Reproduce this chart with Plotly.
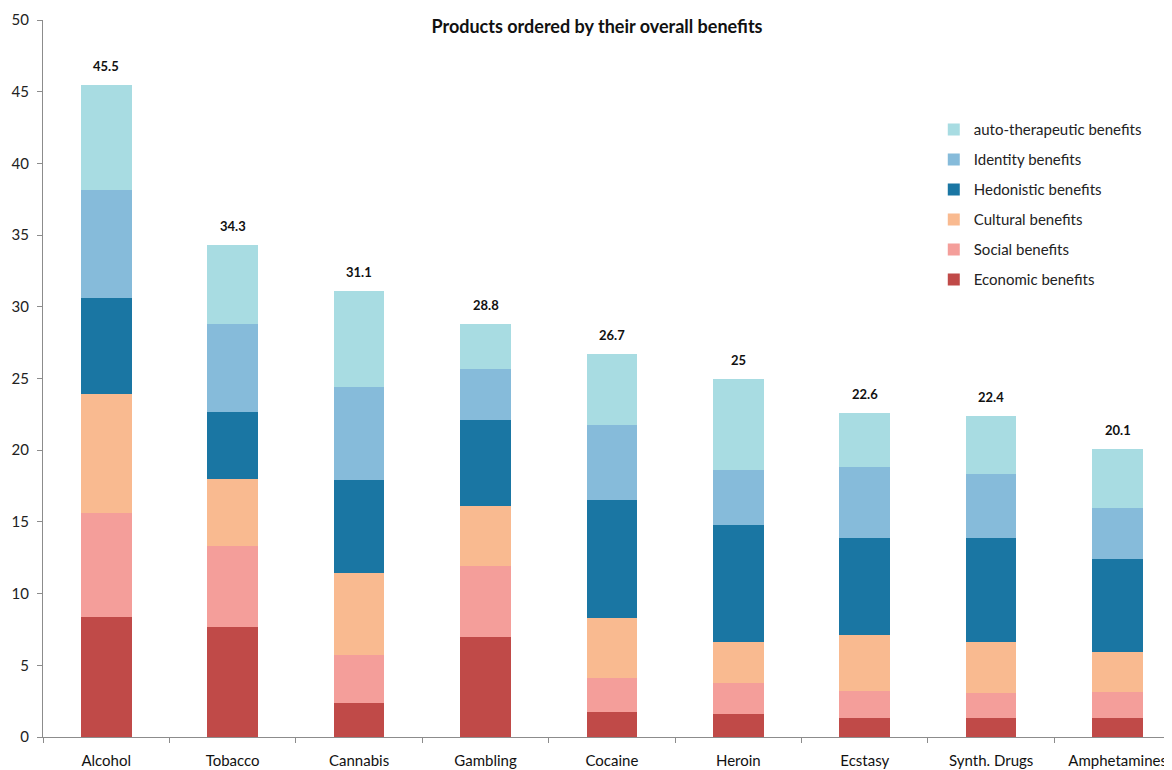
import plotly.graph_objects as go

products = ["Alcohol", "Tobacco", "Cannabis", "Gambling", "Cocaine", "Heroin",
            "Ecstasy", "Synth. Drugs", "Amphetamines"]

economic = [8.4, 7.7, 2.4, 6.95, 1.75, 1.6, 1.3, 1.35, 1.35]
social = [7.2, 5.65, 3.35, 4.95, 2.35, 2.15, 1.9, 1.7, 1.8]
cultural = [8.3, 4.65, 5.7, 4.2, 4.2, 2.9, 3.9, 3.55, 2.8]
hedonistic = [6.7, 4.65, 6.5, 6.0, 8.2, 8.1, 6.75, 7.25, 6.45]
identity = [7.55, 6.15, 6.45, 3.55, 5.25, 3.9, 4.95, 4.5, 3.6]
auto_therapeutic = [7.35, 5.5, 6.7, 3.15, 4.95, 6.35, 3.8, 4.05, 4.1]

totals = [45.5, 34.3, 31.1, 28.8, 26.7, 25, 22.6, 22.4, 20.1]
total_labels = ["45.5", "34.3", "31.1", "28.8", "26.7", "25", "22.6", "22.4", "20.1"]

series = [
    ("Economic benefits", economic, "#C04A48"),
    ("Social benefits", social, "#F49E9A"),
    ("Cultural benefits", cultural, "#F9BA90"),
    ("Hedonistic benefits", hedonistic, "#1A76A3"),
    ("Identity benefits", identity, "#86BBDA"),
    ("auto-therapeutic benefits", auto_therapeutic, "#A8DCE2"),
]

FONT = "Lato, 'Open Sans', sans-serif"

fig = go.Figure()
n = len(series)
for i, (name, vals, color) in enumerate(series):
    fig.add_trace(go.Bar(
        x=products, y=vals, name=name, legendgroup=f"g{i}",
        legendrank=n - i,
        marker=dict(color=color, line=dict(width=0)),
    ))

for p, t, lab in zip(products, totals, total_labels):
    fig.add_annotation(x=p, y=t, text=f"<b>{lab}</b>", showarrow=False,
                       yshift=19, font=dict(size=13, color="#111111", family=FONT))

fig.update_layout(
    width=1164, height=762,
    barmode="stack", bargap=0.6,
    plot_bgcolor="white", paper_bgcolor="white",
    margin=dict(l=35, r=0, t=12, b=33, autoexpand=False),
    font=dict(family=FONT, size=14, color="#222222"),
    title=dict(text="<b>Products ordered by their overall benefits</b>",
               x=0.506, xanchor="center", y=0.975, yanchor="middle",
               font=dict(size=18, color="#111111", family=FONT)),
    legend=dict(x=0.789, y=0.87, xanchor="left", yanchor="top",
                traceorder="grouped", tracegroupgap=7.5,
                font=dict(size=15, color="#222222", family=FONT),
                bgcolor="rgba(0,0,0,0)", itemwidth=30),
    showlegend=True,
)

fig.update_xaxes(
    type="category", range=[-0.5, 8.43],
    showline=True, linecolor="#8c8c8c", linewidth=1,
    ticks="outside", tickson="boundaries", ticklen=5, tickcolor="#8c8c8c",
    showgrid=False, tickfont=dict(size=15, color="#111111"),
    ticklabelstandoff=10,
    automargin=False,
)
fig.update_yaxes(
    range=[0, 50], dtick=5, tick0=0,
    showline=True, linecolor="#8c8c8c", linewidth=1,
    ticks="outside", ticklen=5, tickcolor="#8c8c8c",
    showgrid=False, zeroline=False, tickfont=dict(size=15, color="#222222"),
    ticklabelstandoff=5,
    automargin=False,
)

fig.write_html("out.html")
